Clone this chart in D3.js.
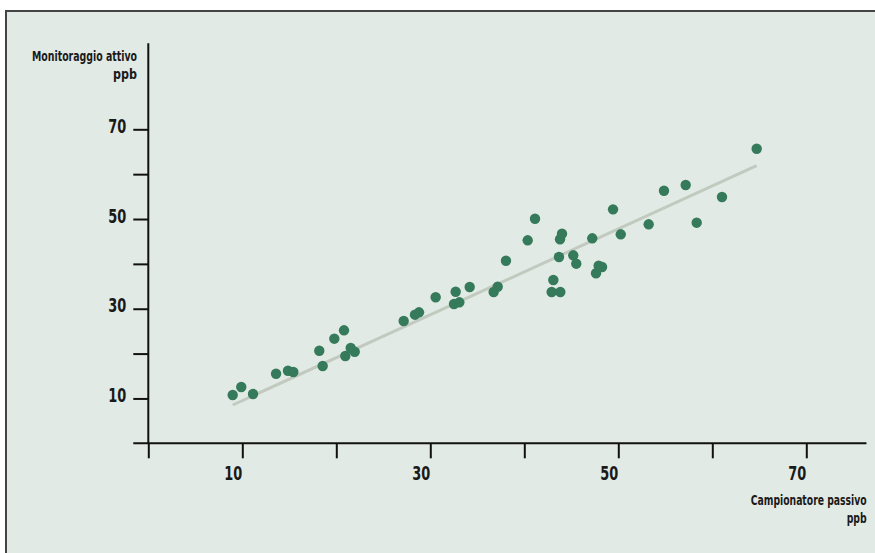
<!DOCTYPE html>
<html>
<head>
<meta charset="utf-8">
<script src="https://cdn.jsdelivr.net/npm/d3@7"></script>
<style>
  html, body { margin: 0; padding: 0; background: #ffffff; }
  svg { display: block; }
  text { font-family: "Liberation Sans Narrow", "DejaVu Sans Condensed", "Roboto Condensed", sans-serif; font-weight: bold; fill: #1a1a1a; }
</style>
</head>
<body>
<svg id="chart" width="875" height="553"></svg>
<script>
// ---- Data ----
const passivo = [8.98, 9.89, 11.14, 13.59, 14.86, 15.43, 18.19, 18.55, 19.79, 20.82, 20.96, 21.53, 21.96,
  27.17, 28.37, 28.80, 30.57, 32.70, 32.52, 33.09, 34.19, 36.74, 37.17, 38.05, 40.36, 41.14,
  42.91, 43.09, 43.83, 43.69, 43.80, 44.01, 45.21, 45.53, 47.23, 47.63, 47.91, 48.27, 49.44,
  50.26, 53.23, 54.86, 57.17, 58.34, 61.03, 64.72];
const attivo = [10.77, 12.55, 10.99, 15.51, 16.18, 15.89, 20.64, 17.23, 23.32, 25.19, 19.46, 21.24, 20.42,
  27.26, 28.67, 29.20, 32.55, 33.79, 31.05, 31.43, 34.84, 33.73, 34.91, 40.70, 45.25, 50.07,
  33.73, 36.40, 33.73, 41.53, 45.48, 46.72, 41.91, 40.04, 45.70, 37.90, 39.59, 39.30, 52.16,
  46.59, 48.82, 56.31, 57.58, 49.18, 54.91, 65.67];
const trendX = [8.98, 64.72];
const trendY = [8.54, 61.88];
const tickValues = [0, 10, 20, 30, 40, 50, 60, 70];
const labeledTicks = [10, 30, 50, 70];
const yTitle = ["Monitoraggio attivo", "ppb"];
const xTitle = ["Campionatore passivo", "ppb"];

const points = passivo.map((v, i) => ({ x: v, y: attivo[i] }));
const trend = trendX.map((v, i) => ({ x: v, y: trendY[i] }));

// ---- Layout ----
const svg = d3.select("#chart");
const x = d3.scaleLinear().domain([0, 70]).range([148.3, 806.3]);
const y = d3.scaleLinear().domain([0, 70]).range([443.3, 129.3]);

// frame / background
svg.append("rect")
  .attr("x", 6).attr("y", 11)
  .attr("width", 900).attr("height", 600)
  .attr("fill", "#e2eae5")
  .attr("stroke", "#444444")
  .attr("stroke-width", 2);

// axis lines
svg.append("line")
  .attr("x1", x(-1.6)).attr("x2", x(76.4))
  .attr("y1", y(0)).attr("y2", y(0))
  .attr("stroke", "#111").attr("stroke-width", 2);
svg.append("line")
  .attr("x1", x(0)).attr("x2", x(0))
  .attr("y1", y(0)).attr("y2", y(89.2))
  .attr("stroke", "#111").attr("stroke-width", 2);

const fmt = d => labeledTicks.includes(d) ? String(d) : "";

function styleTickText(sel) {
  sel.attr("font-family", null).attr("font-size", null)
    .style("font-size", "19px")
    .attr("fill", "#1a1a1a")
    .each(function(d) {
      if (labeledTicks.includes(d)) {
        d3.select(this).attr("textLength", 18).attr("lengthAdjust", "spacingAndGlyphs");
      }
    });
}

// x axis
const gx = svg.append("g")
  .attr("transform", `translate(0,${y(0)})`)
  .call(d3.axisBottom(x).tickValues(tickValues).tickSize(15).tickFormat(fmt));
gx.select(".domain").remove();
gx.attr("font-family", null).attr("font-size", null);
gx.selectAll(".tick line").attr("stroke", "#111").attr("stroke-width", 2);
gx.selectAll(".tick text")
  .attr("y", 0).attr("dy", 0)
  .attr("transform", "translate(-9.6,37)")
  .call(styleTickText);

// y axis
const gy = svg.append("g")
  .attr("transform", `translate(${x(0)},0)`)
  .call(d3.axisLeft(y).tickValues(tickValues.filter(d => d > 0)).tickSize(15).tickFormat(fmt));
gy.select(".domain").remove();
gy.attr("font-family", null).attr("font-size", null);
gy.selectAll(".tick line").attr("stroke", "#111").attr("stroke-width", 2);
gy.selectAll(".tick text")
  .attr("x", -22).attr("dy", 0).attr("y", 3)
  .call(styleTickText);

// trend line
svg.append("path")
  .datum(trend)
  .attr("d", d3.line().x(d => x(d.x)).y(d => y(d.y)))
  .attr("stroke", "#c2cac0")
  .attr("stroke-width", 3)
  .attr("fill", "none");

// points
svg.append("g").selectAll("circle")
  .data(points)
  .join("circle")
  .attr("cx", d => x(d.x))
  .attr("cy", d => y(d.y))
  .attr("r", 5.2)
  .attr("fill", "#357a5b");

// axis titles
const yTitleLen = [105, 24];
const xTitleLen = [116, 20];
yTitle.forEach((t, i) => {
  svg.append("text")
    .attr("text-anchor", "end")
    .attr("x", 137).attr("y", 61 + i * 18)
    .attr("textLength", yTitleLen[i]).attr("lengthAdjust", "spacingAndGlyphs")
    .style("font-size", "13.5px")
    .text(t);
});
xTitle.forEach((t, i) => {
  svg.append("text")
    .attr("text-anchor", "end")
    .attr("x", 866.7).attr("y", 505 + i * 18)
    .attr("textLength", xTitleLen[i]).attr("lengthAdjust", "spacingAndGlyphs")
    .style("font-size", "13.5px")
    .text(t);
});
</script>
</body>
</html>
